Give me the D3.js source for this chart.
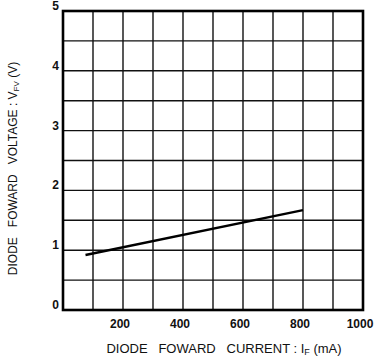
<!DOCTYPE html>
<html>
<head>
<meta charset="utf-8">
<script src="https://cdn.jsdelivr.net/npm/d3@7"></script>
<style>
  body { margin: 0; background: #fff; }
  svg text { font-family: "Liberation Sans", Arial, sans-serif; fill: #111; }
</style>
</head>
<body>
<div id="chart"></div>
<script>
// forward current (mA) vs forward voltage (V)
var currentMA = [75, 800];
var voltageV = [0.92, 1.67];
var xTicks = [200, 400, 600, 800, 1000];
var yTicks = [0, 1, 2, 3, 4, 5];
var xGrid = d3.range(0, 1001, 100);
var yGrid = d3.range(0, 5.01, 0.5);

var W = 378, H = 361;
var plot = {left: 63, right: 363, top: 11, bottom: 310};

var svg = d3.select('#chart').append('svg')
    .attr('width', W)
    .attr('height', H);

var x = d3.scaleLinear().domain([0, 1000]).range([plot.left, plot.right]);
var y = d3.scaleLinear().domain([0, 5]).range([plot.bottom, plot.top]);

// grid
svg.append('g').selectAll('line').data(xGrid.slice(1, -1)).enter().append('line')
    .attr('x1', function(d) { return x(d); })
    .attr('x2', function(d) { return x(d); })
    .attr('y1', plot.top).attr('y2', plot.bottom)
    .attr('stroke', '#111').attr('stroke-width', 1.4);
svg.append('g').selectAll('line').data(yGrid.slice(1, -1)).enter().append('line')
    .attr('y1', function(d) { return y(d); })
    .attr('y2', function(d) { return y(d); })
    .attr('x1', plot.left).attr('x2', plot.right)
    .attr('stroke', '#111').attr('stroke-width', 1.4);

// frame
svg.append('rect')
    .attr('x', plot.left).attr('y', plot.top)
    .attr('width', plot.right - plot.left)
    .attr('height', plot.bottom - plot.top)
    .attr('fill', 'none').attr('stroke', '#000').attr('stroke-width', 2.6);

// tick labels
svg.append('g').selectAll('text').data(yTicks).enter().append('text')
    .attr('x', plot.left - 4)
    .attr('y', function(d) { return y(d) - 1; })
    .attr('text-anchor', 'end')
    .attr('font-size', 12).attr('font-weight', 'bold')
    .text(function(d) { return d; });

svg.append('g').selectAll('text').data(xTicks).enter().append('text')
    .attr('x', function(d) { return x(d) - 3; })
    .attr('y', plot.bottom + 18)
    .attr('text-anchor', 'middle')
    .attr('font-size', 12).attr('font-weight', 'bold')
    .text(function(d) { return d; });

// data line
var line = d3.line()
    .x(function(d) { return x(d[0]); })
    .y(function(d) { return y(d[1]); });
svg.append('path')
    .datum(d3.zip(currentMA, voltageV))
    .attr('d', line)
    .attr('fill', 'none').attr('stroke', '#000').attr('stroke-width', 2.4);

// axis titles
var xt = svg.append('text')
    .attr('x', 224).attr('y', 353)
    .attr('text-anchor', 'middle')
    .attr('font-size', 13)
    .attr('xml:space', 'preserve');
xt.append('tspan').text('DIODE   FOWARD   CURRENT : I');
xt.append('tspan').attr('font-size', 9).attr('dy', 2).text('F');
xt.append('tspan').attr('dy', -2).text(' (mA)');

var yt = svg.append('text')
    .attr('transform', 'translate(17,' + ((plot.top + plot.bottom) / 2 + 8) + ') rotate(-90)')
    .attr('text-anchor', 'middle')
    .attr('font-size', 12)
    .attr('xml:space', 'preserve');
yt.append('tspan').text('DIODE   FOWARD   VOLTAGE : V');
yt.append('tspan').attr('font-size', 8).attr('dy', 2).text('FV');
yt.append('tspan').attr('dy', -2).text(' (V)');
</script>
</body>
</html>
